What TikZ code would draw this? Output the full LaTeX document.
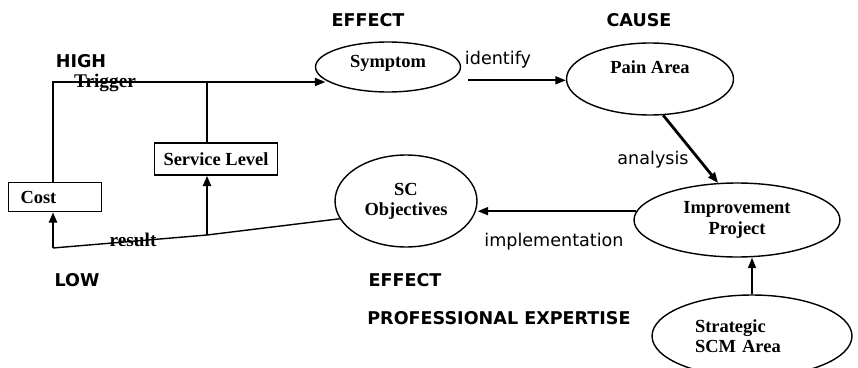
\documentclass[tikz,border=0pt]{standalone}
\usepackage{fontspec}
\setmainfont{Liberation Serif}
\newfontfamily\lblfont{DejaVu Sans}
\usepackage{tikz}
\usetikzlibrary{arrows.meta,shapes.geometric}
\tikzset{
    >={Triangle[length=6pt,width=4.6pt]},
    phase/.style={
        ellipse,
        draw, line width=0.8pt,
        inner sep=1pt,
        align=center,
        font={\fontsize{10.5pt}{11.5pt}\selectfont\bfseries}
    },
    box/.style={
        rectangle,
        draw, line width=0.8pt,
        font={\fontsize{10.5pt}{12pt}\selectfont\bfseries}
    },
    head/.style={font={\lblfont\fontsize{10pt}{12pt}\selectfont\bfseries}},
    verb/.style={font={\lblfont\fontsize{10pt}{12pt}\selectfont}},
    tag/.style={font={\fontsize{11pt}{13pt}\selectfont\bfseries}},
    line/.style={draw, line width=0.8pt},
    arr/.style={draw, line width=1pt, ->},
}
\begin{document}
\begin{tikzpicture}[x=0.02cm, y=-0.02cm]
\useasboundingbox (0,0) rectangle (858,368);
\node[head](effTop) at (368,20){EFFECT};
\node[head](cause) at (639,20){CAUSE};
\node[head](high) at (81,61){HIGH};
\node[tag](trig) at (105,83){Trigger};
\node[head](low) at (77,280){LOW};
\node[head](effBot) at (405,280){EFFECT};
\node[head](expert) at (499,318){PROFESSIONAL EXPERTISE};

\node[phase, minimum width=2.9cm, minimum height=1cm, text depth=6pt](sym) at (388,67){Symptom};
\node[phase, minimum width=3.34cm, minimum height=1.44cm, text depth=14pt](pain) at (650,79){Pain Area};
\node[phase, minimum width=4.12cm, minimum height=1.48cm](imp) at (737,220){Improvement\\Project};
\node[phase, minimum width=2.84cm, minimum height=1.84cm](sco) at (406,201){SC\\Objectives};
\node[phase, minimum width=4cm, minimum height=1.64cm, text width=2.28cm, align=left](strat) at (752,336){Strategic\\SCM Area};
\node[box, minimum width=2.46cm, minimum height=0.64cm](svc) at (216,159){Service Level};
\node[box, minimum height=0.58cm, text width=1.38cm, inner xsep=0.24cm, align=left](cost) at (55,197){Cost};

\node[verb](idf) at (498,60){identify};
\node[verb](ana) at (653,160){analysis};
\node[verb](impl) at (554,242){implementation};
\node[tag](res) at (133,240){result};

\coordinate(hi) at (53,82);
\coordinate(lo) at (53,248);
\coordinate(split) at (207,235);

\draw[arr] (cost.north -| hi) -- (hi) -- (hi -| sym.192);
\draw[line] (hi -| split) -- (svc.north -| split);
\draw[arr, shorten <=10pt] (sym.-12) -- (sym.-12 -| pain.west);
\draw[arr, line width=1.6pt] (pain.-70) -- (imp.117);
\draw[arr] (imp.175) -- (imp.175 -| sco.east);
\draw[arr] (strat.north) -- (strat.north |- imp.south);
\draw[line] (sco.195) -- (split) -- (lo);
\draw[arr, line width=1.4pt] (split) -- (split |- svc.south);
\draw[arr, line width=1.4pt] (lo) -- (lo |- cost.south);
\end{tikzpicture}
\end{document}
